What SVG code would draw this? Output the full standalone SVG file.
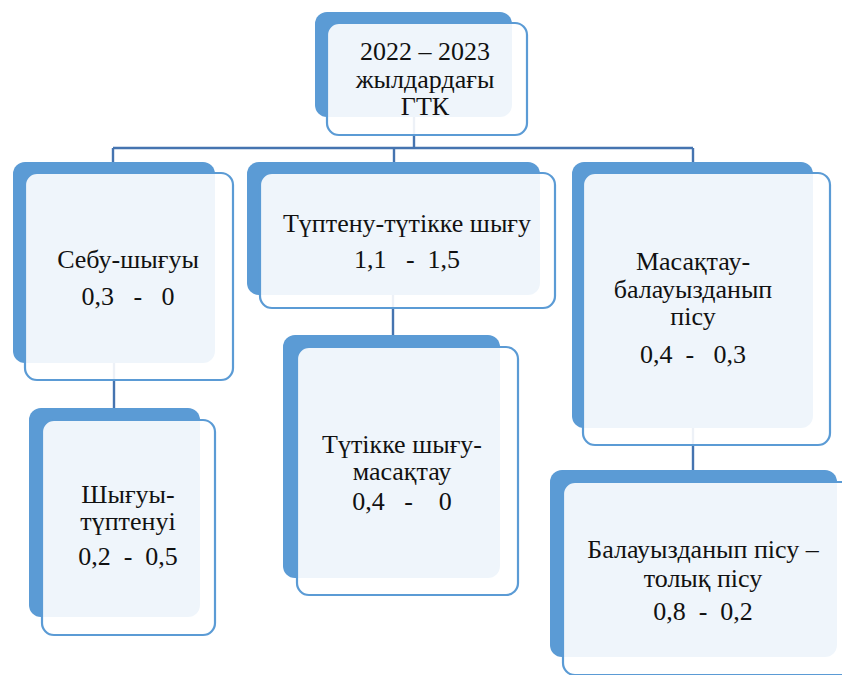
<svg xmlns="http://www.w3.org/2000/svg" width="842" height="675" viewBox="0 0 842 675">
<style>
.back{fill:#5b9bd5}
.front{fill:#ffffff;fill-opacity:0.9;stroke:#5b9bd5;stroke-width:2.2}
.conn{fill:none;stroke:#4574b0;stroke-width:2.4}
.t{font-family:'Liberation Serif','DejaVu Serif',serif;font-size:26px;fill:#111111;text-anchor:middle;white-space:pre}
</style>
<rect width="842" height="675" fill="#ffffff"/>
<g id="connectors">
<path class="conn" d="M414,117 V148 M113,148 H693 M113,148 V162 M394,148 V162 M693,148 V162"/>
<path class="conn" d="M114,363 V408 M393,295 V335 M693,428 V470"/>
</g>
<g id="n-root">
<rect class="back" x="315" y="12" width="197" height="105" rx="12"/>
<rect class="front" x="327" y="23" width="200" height="112" rx="12"/>
<text class="t" x="425" y="60">2022 – 2023</text>
<text class="t" x="425" y="88">жылдардағы</text>
<text class="t" x="425" y="115">ГТК</text>
</g>
<g id="n-sebu">
<rect class="back" x="13" y="162" width="202" height="201" rx="12"/>
<rect class="front" x="25" y="173" width="208" height="207" rx="12"/>
<text class="t" x="128" y="268">Себу-шығуы</text>
<text class="t" x="128" y="305">0,3   -   0</text>
</g>
<g id="n-tuptenu">
<rect class="back" x="247" y="162" width="293" height="133" rx="12"/>
<rect class="front" x="260" y="173" width="295" height="135" rx="12"/>
<text class="t" x="407" y="232">Түптену-түтікке шығу</text>
<text class="t" x="407" y="268">1,1   -  1,5</text>
</g>
<g id="n-masaktau">
<rect class="back" x="572" y="162" width="241" height="266" rx="12"/>
<rect class="front" x="583" y="173" width="247" height="272" rx="12"/>
<text class="t" x="693" y="270">Масақтау-</text>
<text class="t" x="693" y="298">балауызданып</text>
<text class="t" x="693" y="325">пісу</text>
<text class="t" x="693" y="363">0,4  -   0,3</text>
</g>
<g id="n-shyguy">
<rect class="back" x="29" y="408" width="171" height="209" rx="12"/>
<rect class="front" x="42" y="420" width="173" height="215" rx="12"/>
<text class="t" x="128" y="503">Шығуы-</text>
<text class="t" x="128" y="530">түптенуі</text>
<text class="t" x="128" y="565">0,2  -  0,5</text>
</g>
<g id="n-tutikke">
<rect class="back" x="283" y="335" width="217" height="243" rx="12"/>
<rect class="front" x="297" y="347" width="221" height="248" rx="12"/>
<text class="t" x="402" y="453">Түтікке шығу-</text>
<text class="t" x="402" y="480">масақтау</text>
<text class="t" x="402" y="510">0,4   -    0</text>
</g>
<g id="n-balauyz">
<rect class="back" x="550" y="470" width="287" height="187" rx="12"/>
<rect class="front" x="563" y="482" width="293" height="193" rx="12"/>
<text class="t" x="703" y="558">Балауызданып пісу –</text>
<text class="t" x="703" y="587">толық пісу</text>
<text class="t" x="703" y="620">0,8  -  0,2</text>
</g>
</svg>
